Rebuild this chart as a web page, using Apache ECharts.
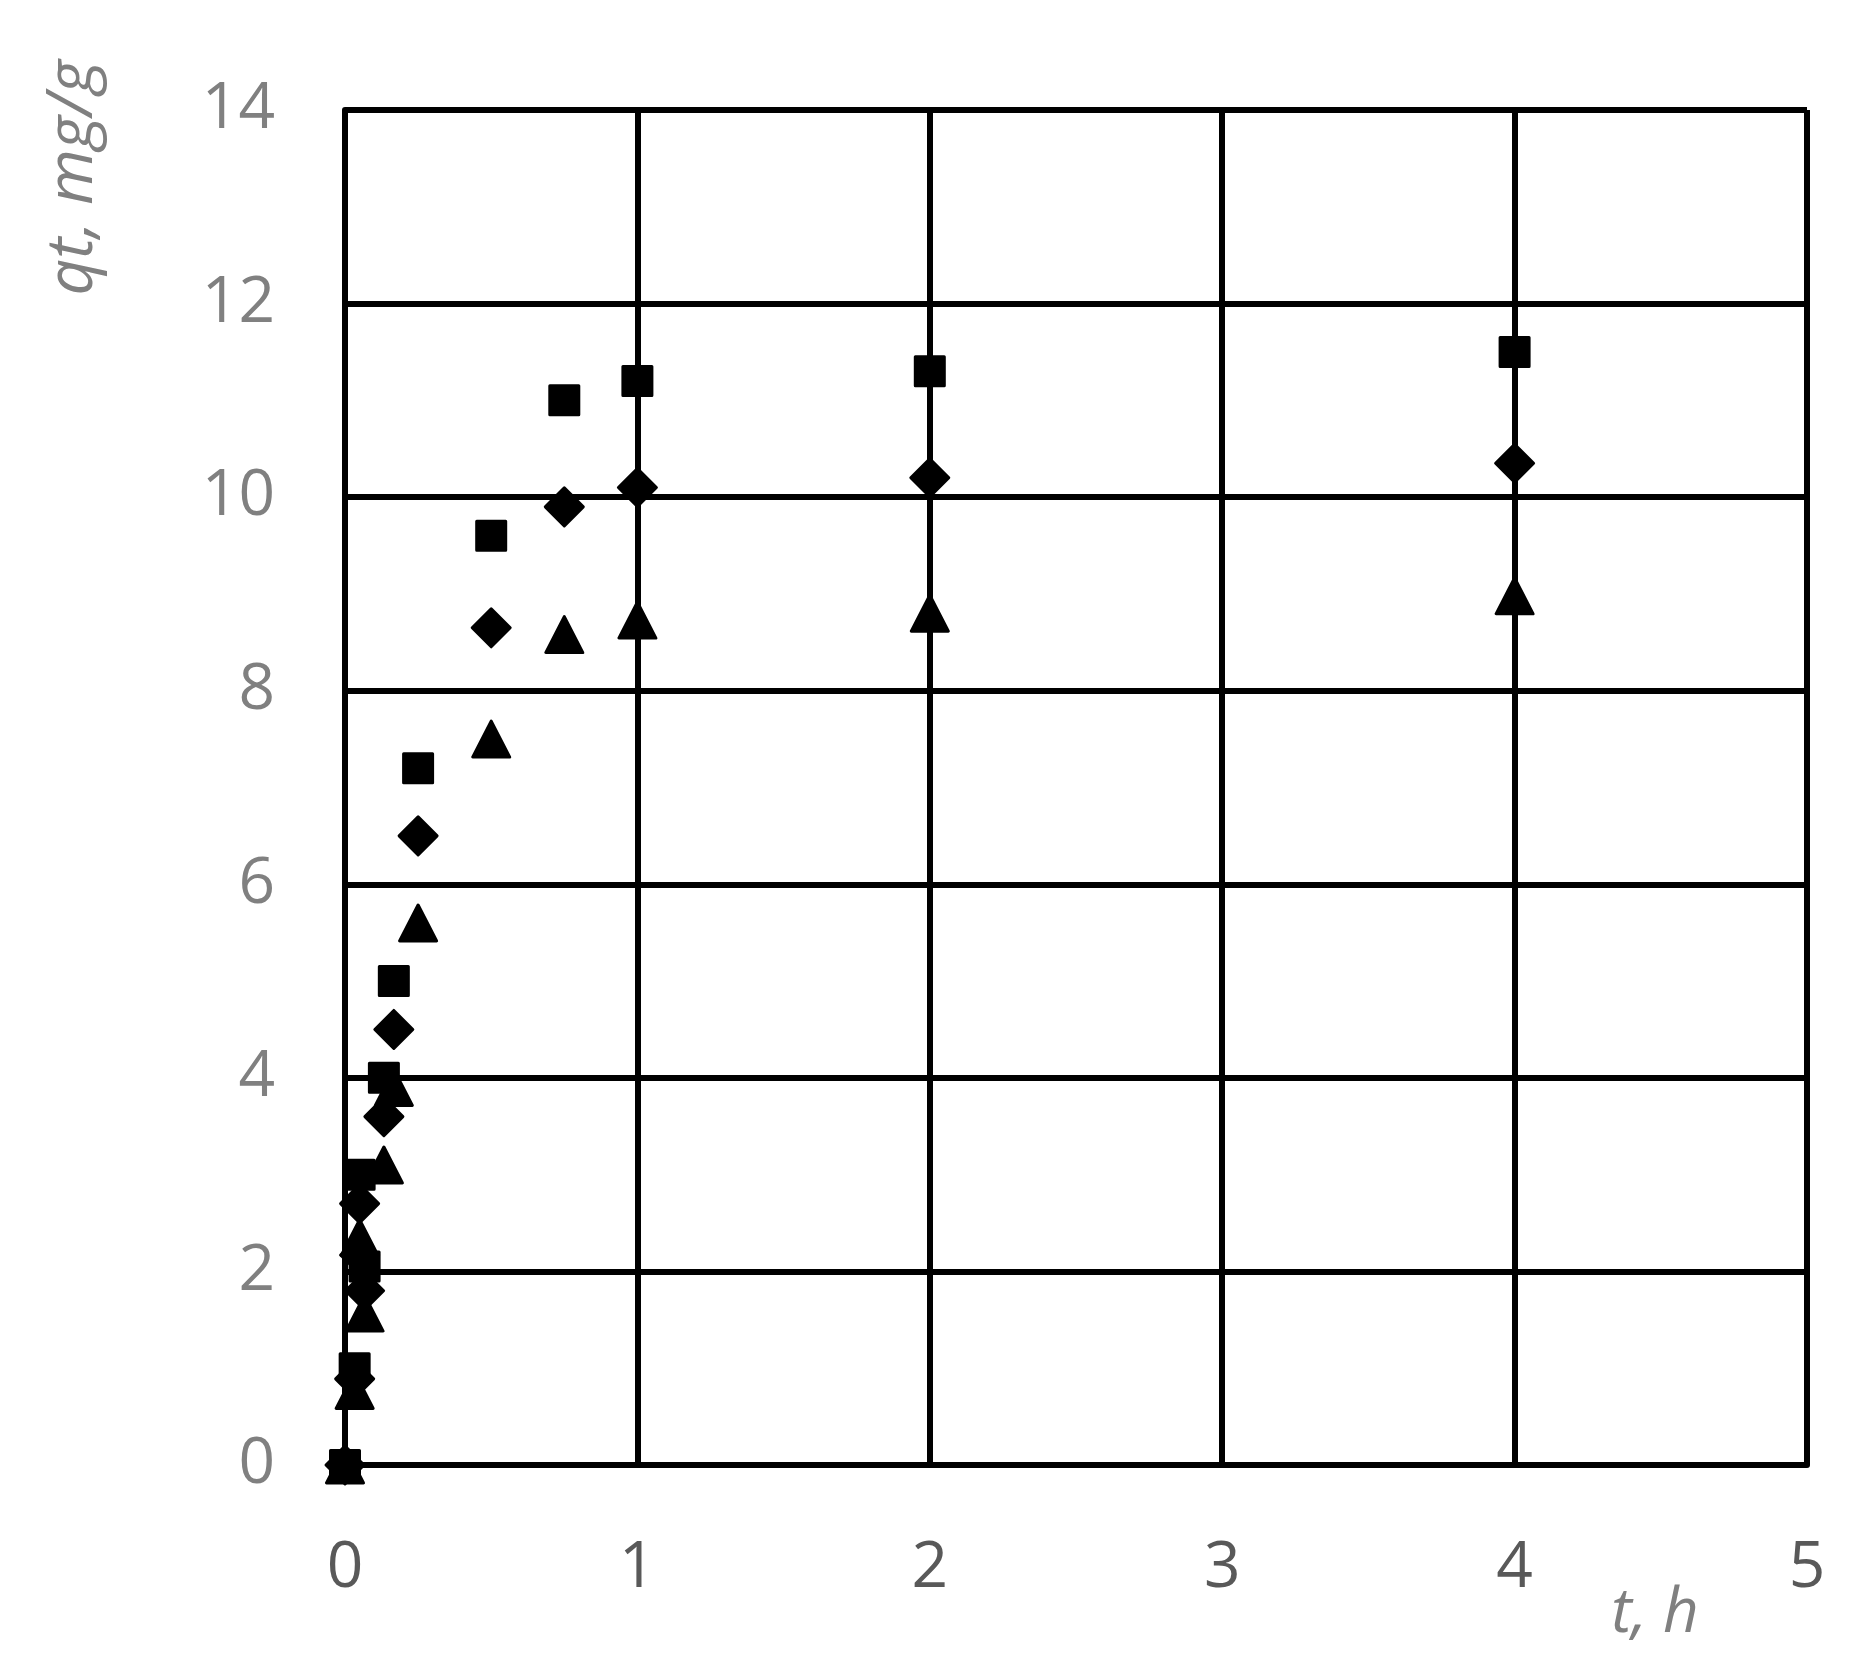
<!DOCTYPE html>
<html>
<head>
<meta charset="utf-8">
<script src="https://cdn.jsdelivr.net/npm/echarts@6/dist/echarts.min.js"></script>
<style>
html,body{margin:0;padding:0;background:#fff;}
#chart{width:1872px;height:1676px;}
</style>
</head>
<body>
<div id="chart"></div>
<script>
// time, h
const tSquare  = [0, 0.033, 0.05, 0.067, 0.133, 0.167, 0.25, 0.5, 0.75, 1, 2, 4];
const qSquare  = [0, 1.0, 3.0, 2.05, 4.0, 5.0, 7.2, 9.6, 11.0, 11.2, 11.3, 11.5];
const tDiamond = [0, 0.033, 0.05, 0.05, 0.067, 0.133, 0.167, 0.25, 0.5, 0.75, 1, 2, 4];
const qDiamond = [0, 0.89, 2.7, 2.17, 1.8, 3.6, 4.5, 6.5, 8.65, 9.9, 10.1, 10.2, 10.35];
const tTri     = [0, 0.033, 0.05, 0.067, 0.133, 0.167, 0.25, 0.5, 0.75, 1, 2, 4];
const qTri     = [0, 0.77, 2.35, 1.57, 3.1, 3.9, 5.6, 7.5, 8.58, 8.73, 8.8, 8.98];
const xTicks = [0, 1, 2, 3, 4, 5];
const yTicks = [0, 2, 4, 6, 8, 10, 12, 14];
const xTitle = 't, h';
const yTitle = 'qt, mg/g';

const pairs = (xs, ys) => xs.map((x, i) => [x, ys[i]]);
const FONT = '"Open Sans", "Noto Sans", sans-serif';
const mk = {color: '#000', borderColor: '#000', borderWidth: 3, borderJoin: 'round', opacity: 1};

const chart = echarts.init(document.getElementById('chart'), null, {renderer: 'canvas'});
chart.setOption({
  animation: false,
  backgroundColor: '#fff',
  grid: {left: 345, right: 65, top: 110, bottom: 211, containLabel: false},
  xAxis: {
    type: 'value', min: xTicks[0], max: xTicks[xTicks.length - 1], interval: 1,
    axisLine: {show: true, onZero: false, lineStyle: {color: '#000', width: 6}},
    axisTick: {show: false},
    splitLine: {show: true, lineStyle: {color: '#000', width: 6}},
    axisLabel: {color: '#595959', fontSize: 64, fontFamily: FONT, margin: 72}
  },
  yAxis: {
    type: 'value', min: yTicks[0], max: yTicks[yTicks.length - 1], interval: 2,
    axisLine: {show: true, onZero: false, lineStyle: {color: '#000', width: 6}},
    axisTick: {show: false},
    splitLine: {show: true, lineStyle: {color: '#000', width: 6}},
    axisLabel: {color: '#808080', fontSize: 64, fontFamily: FONT, margin: 70}
  },
  graphic: [
    {type: 'text', x: 74, y: 178, rotation: Math.PI / 2,
     style: {text: yTitle, fill: '#808080', font: 'italic 64px ' + FONT, align: 'center', verticalAlign: 'middle'}},
    {type: 'text', x: 1655, y: 1614,
     style: {text: xTitle, fill: '#808080', font: 'italic 62px ' + FONT, align: 'center', verticalAlign: 'middle'}}
  ],
  series: [
    {type: 'scatter', symbol: 'rect', symbolSize: 29, itemStyle: mk, data: pairs(tSquare, qSquare)},
    {type: 'scatter', symbol: 'diamond', symbolSize: 38, itemStyle: mk, data: pairs(tDiamond, qDiamond)},
    {type: 'scatter', symbol: 'triangle', symbolSize: [37, 36], itemStyle: mk, data: pairs(tTri, qTri)}
  ]
});
</script>
</body>
</html>
